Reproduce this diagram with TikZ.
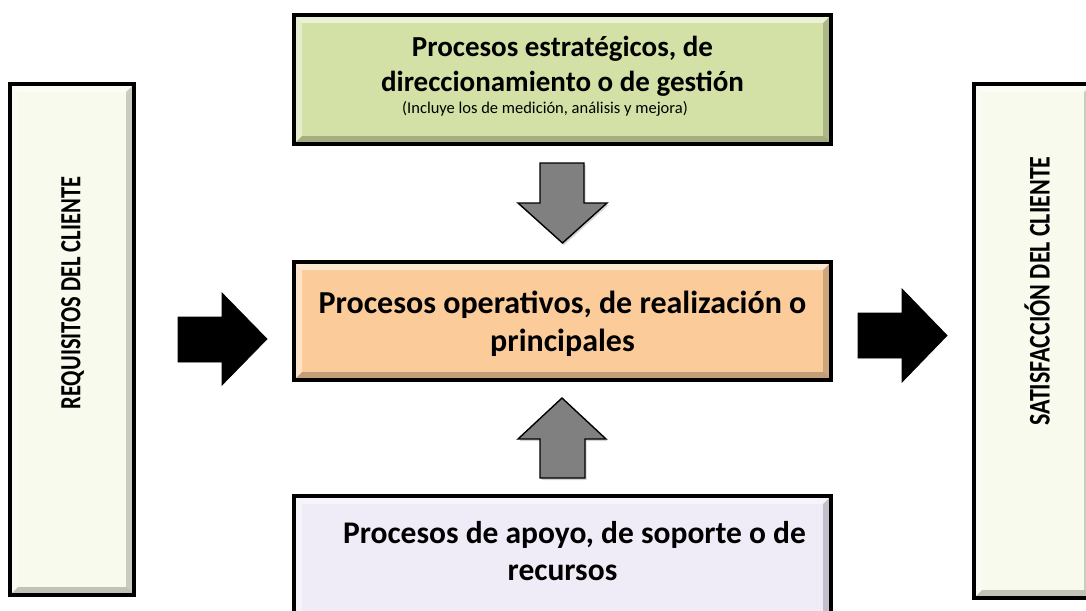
\documentclass[tikz,border=0pt]{standalone}
\usepackage{fontspec}
\usepackage{graphicx}
\setmainfont{Carlito}
\usetikzlibrary{shadows}
\definecolor{topgreen}{HTML}{D3E0A6}
\definecolor{midorange}{HTML}{FBCB9A}
\definecolor{botlav}{HTML}{EFEBF7}
\definecolor{sidecream}{HTML}{F7FAEC}
\definecolor{arrowgray}{HTML}{808080}
\tikzset{
  bevel/.style={path picture={
    \fill[white,opacity=.55] (path picture bounding box.north west) -- (path picture bounding box.north east)
      -- ([xshift=-8pt,yshift=-8pt]path picture bounding box.north east) -- ([xshift=8pt,yshift=-8pt]path picture bounding box.north west) -- cycle;
    \fill[white,opacity=.45] (path picture bounding box.north west) -- (path picture bounding box.south west)
      -- ([xshift=8pt,yshift=8pt]path picture bounding box.south west) -- ([xshift=8pt,yshift=-8pt]path picture bounding box.north west) -- cycle;
    \fill[black,opacity=.22] (path picture bounding box.south west) -- (path picture bounding box.south east)
      -- ([xshift=-8pt,yshift=8pt]path picture bounding box.south east) -- ([xshift=8pt,yshift=8pt]path picture bounding box.south west) -- cycle;
    \fill[black,opacity=.18] (path picture bounding box.north east) -- (path picture bounding box.south east)
      -- ([xshift=-8pt,yshift=8pt]path picture bounding box.south east) -- ([xshift=-8pt,yshift=-8pt]path picture bounding box.north east) -- cycle;
  }},
  box/.style={draw=black, line width=4pt, inner sep=0pt, outer sep=0pt, rectangle, bevel},
  title/.style={font=\fontsize{29}{35}\selectfont\bfseries, align=center, inner sep=0pt},
  sidetext/.style={rotate=90, inner sep=0pt},
  blockarrow/.style={fill=black, draw=black, line width=0.8pt, line join=miter},
  grayarrow/.style={fill=arrowgray, draw=black, line width=1.4pt, line join=miter,
    drop shadow={opacity=0.35, shadow xshift=1.5pt, shadow yshift=-2pt}},
}
\begin{document}
\begin{tikzpicture}[x=1pt,y=-1pt]
\useasboundingbox (0,0) rectangle (1086,610);
% side boxes
\node[box, fill=sidecream, minimum width=124pt, minimum height=511pt] (req) at (72,339.5) {};
\node[box, fill=sidecream, minimum width=118pt, minimum height=514pt] (sat) at (1033,341) {};
\node[sidetext, font=\fontsize{22.5}{26}\selectfont\bfseries] (reqt) at (72.5,293) {\scalebox{1}[1.3]{REQUISITOS DEL CLIENTE}};
\node[sidetext, font=\fontsize{24}{28}\selectfont\bfseries] (satt) at (1037,291) {\scalebox{1}[1.25]{SATISFACCIÓN DEL CLIENTE}};
% central boxes
\node[box, fill=topgreen, minimum width=537pt, minimum height=129pt] (strat) at (562.5,79.5) {};
\node[box, fill=midorange, minimum width=537pt, minimum height=118pt] (oper) at (562.5,321) {};
\node[box, fill=botlav, minimum width=537pt, minimum height=124pt] (apoyo) at (562.5,558) {};
% texts
\node[title] (stratt) at (562.5,66) {Procesos estratégicos, de\\direccionamiento o de gestión};
\node[font=\fontsize{16.5}{18}\selectfont, inner sep=0pt] (stratsub) at (545,109) {(Incluye los de medición, análisis y mejora)};
\node[title, font=\fontsize{32}{38}\selectfont\bfseries] (opert) at (562.5,324) {Procesos operativos, de realización o\\principales};
\node[title, font=\fontsize{31.5}{37}\selectfont\bfseries] (apoyot) at (562.5,551) {\hspace*{24pt}Procesos de apoyo, de soporte o de\\recursos};
% black arrows
\draw[blockarrow] (178,317) -- (222,317) -- (222,293) -- (267,339) -- (222,385) -- (222,362) -- (178,362) -- cycle;
\draw[blockarrow] (858,313) -- (902,313) -- (902,289) -- (947,335.5) -- (902,382) -- (902,358) -- (858,358) -- cycle;
% gray arrows
\draw[grayarrow] (540,163) -- (584,163) -- (584,203) -- (607,203) -- (562.5,243) -- (518,203) -- (540,203) -- cycle;
\draw[grayarrow] (540,478) -- (585,478) -- (585,439) -- (606,439) -- (562,398) -- (518,439) -- (540,439) -- cycle;
\end{tikzpicture}
\end{document}
